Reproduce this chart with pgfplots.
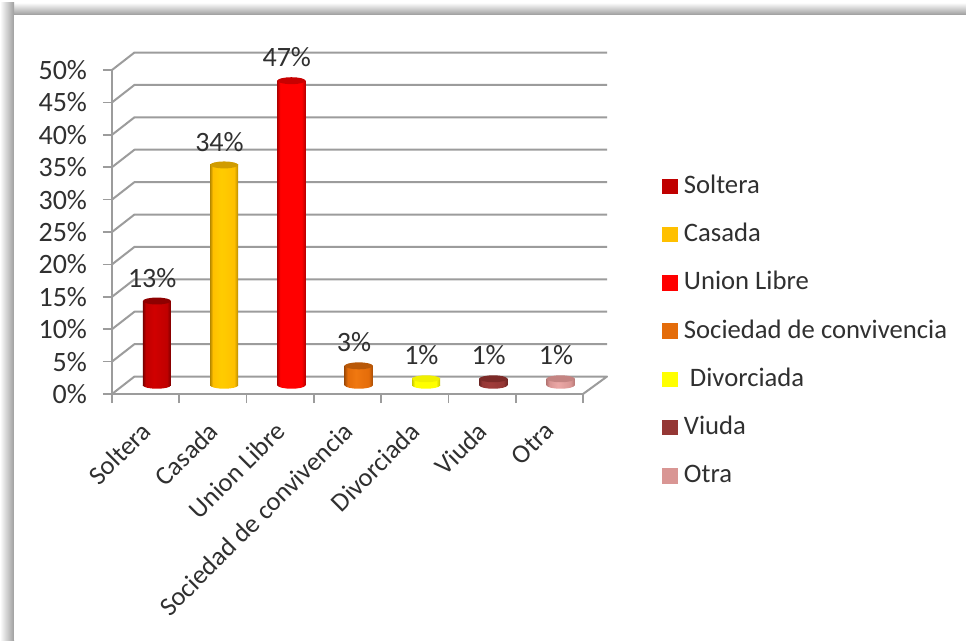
\documentclass[border=0pt]{standalone}
\usepackage{pgfplots}
\pgfplotsset{compat=1.18}
\usepackage{fontspec}
\setmainfont{Carlito}
\definecolor{gridgray}{HTML}{9C9C9C}
\definecolor{txt}{HTML}{303030}

% cylinder look: horizontal shading plus the two end caps as plot marks
\newcommand{\DeclareCyl}[5]{% name, base, edge, bright, top
  \definecolor{#1base}{HTML}{#2}
  \definecolor{#1edge}{HTML}{#3}
  \definecolor{#1bright}{HTML}{#4}
  \definecolor{#1top}{HTML}{#5}
  \pgfdeclarehorizontalshading{#1shade}{100bp}{color(0bp)=(#1edge); color(25bp)=(#1edge); color(30bp)=(#1base); color(45bp)=(#1bright); color(68bp)=(#1base); color(75bp)=(#1edge); color(100bp)=(#1edge)}
  \pgfdeclareplotmark{#1bot}{\path[draw=none,shade,shading=#1shade,rotate=4] (0pt,0pt) ellipse [x radius=10.5pt,y radius=2.6pt];}
  \pgfdeclareplotmark{#1cap}{\path[draw=none,fill=#1top,rotate=4] (0pt,0pt) ellipse [x radius=10.5pt,y radius=2.6pt];}
}
\DeclareCyl{soltera}{C00000}{7A0000}{D00000}{8E0000}
\DeclareCyl{casada}{FFC000}{B88A00}{FFCC00}{D09C00}
\DeclareCyl{union}{FF0000}{B80000}{FF0000}{C80000}
\DeclareCyl{sociedad}{E46C0A}{A84E06}{F07810}{B85808}
\DeclareCyl{divorciada}{FFFF00}{C8C800}{FFFF00}{F0F000}
\DeclareCyl{viuda}{953735}{6E2624}{A03C3A}{7C2A28}
\DeclareCyl{otra}{D99694}{B87876}{EBA8A6}{C48482}

\newcommand{\cyl}[4]{% name, position, value, legend text
  \addplot[forget plot,only marks,mark=#1bot] coordinates {(#2,0)};
  \addplot[forget plot,ybar,bar shift=0pt,bar width=21pt,draw=none,shading=#1shade] coordinates {(#2,#3)};
  \addplot[forget plot,only marks,mark=#1cap,point meta=y,
    nodes near coords={\pgfmathprintnumber[assume math mode=true]{\pgfplotspointmeta}\%},
    nodes near coords style={anchor=center,xshift=-3.5pt,yshift=17.5pt,font=\fontsize{21}{23}\selectfont,text=txt}]
    coordinates {(#2,#3)};
  \addlegendimage{legend image code/.code={\fill[#1base] (0pt,-4.4pt) rectangle (11.25pt,6.4pt);}}
  \addlegendentry{#4}
}

\begin{document}
\begin{tikzpicture}
\path[use as bounding box] (0,0) rectangle (724.5pt,480pt);
% frame shadow
\shade[left color=white,right color=black!38] (0pt,0pt) rectangle (10.5pt,470pt);
\shade[bottom color=black!38,top color=white] (2pt,469pt) rectangle (724.5pt,478pt);
\shade[left color=white,right color=black!38] (0pt,469pt) rectangle (10.5pt,478pt);
\fill[white] (10.5pt,0pt) rectangle (724.5pt,469pt);

\begin{axis}[
  at={(84pt,184.5pt)},anchor=south west,
  scale only axis,width=353.25pt,height=243pt,
  clip=false,
  unbounded coords=jump,
  xmin=-0.667,xmax=6.333,
  ymin=-1.35,ymax=48.65,
  axis lines=left,
  axis line style={-,draw=gridgray,line width=1.5pt},
  tick align=outside,
  tick pos=left,
  major tick length=6.75pt,
  ytick={-1.35,3.65,8.65,13.65,18.65,23.65,28.65,33.65,38.65,43.65,48.65},
  yticklabels={0\%,5\%,10\%,15\%,20\%,25\%,30\%,35\%,40\%,45\%,50\%},
  ytick style={draw=gridgray,line width=1.2pt},
  yticklabel style={font=\fontsize{21}{23}\selectfont,text=txt,xshift=-8.5pt},
  xtick={-0.667,0.333,1.333,2.333,3.333,4.333,5.333,6.333},
  xticklabels={,,,,,,,},
  xtick style={draw=gridgray,line width=1.2pt},
  extra x ticks={-0.167,0.833,1.833,2.833,3.833,4.833,5.833},
  extra x tick labels={Soltera,Casada,Union Libre,Sociedad de convivencia,Divorciada,Viuda,Otra},
  extra x tick style={xtick style={draw=none}},
  xticklabel style={font=\fontsize{19.8}{22}\selectfont,text=txt,rotate=45,anchor=north east,xshift=-8.9pt,yshift=-2.4pt},
  legend cell align=left,
  legend style={at={(1.168,0.6735)},anchor=north west,draw=none,fill=none,inner sep=0pt,
    font=\fontsize{20}{22}\selectfont,text=txt,row sep=19.2pt,
    /tikz/column 1/.style={column sep=4.5pt},
    nodes={inner sep=0pt,text height=13pt,text depth=4pt,xshift=5pt}},
]
% walls: side line then back line for each level, then the floor edge on the right
\addplot[forget plot,draw=gridgray,line width=1.5pt,line join=round] coordinates {
  (-0.667,-1.35) (-0.333,1.35) (6.69,1.35) (6.333,-1.35) (nan,nan)
  (-0.667,3.65) (-0.333,6.35) (6.69,6.35) (nan,nan)
  (-0.667,8.65) (-0.333,11.35) (6.69,11.35) (nan,nan)
  (-0.667,13.65) (-0.333,16.35) (6.69,16.35) (nan,nan)
  (-0.667,18.65) (-0.333,21.35) (6.69,21.35) (nan,nan)
  (-0.667,23.65) (-0.333,26.35) (6.69,26.35) (nan,nan)
  (-0.667,28.65) (-0.333,31.35) (6.69,31.35) (nan,nan)
  (-0.667,33.65) (-0.333,36.35) (6.69,36.35) (nan,nan)
  (-0.667,38.65) (-0.333,41.35) (6.69,41.35) (nan,nan)
  (-0.667,43.65) (-0.333,46.35) (6.69,46.35) (nan,nan)
  (-0.667,48.65) (-0.333,51.35) (6.69,51.35)
};
\cyl{soltera}{0}{13}{Soltera}
\cyl{casada}{1}{34}{Casada}
\cyl{union}{2}{47}{Union Libre}
\cyl{sociedad}{3}{3}{Sociedad de convivencia}
\cyl{divorciada}{4}{1}{\ Divorciada}
\cyl{viuda}{5}{1}{Viuda}
\cyl{otra}{6}{1}{Otra}
\end{axis}
\end{tikzpicture}
\end{document}
